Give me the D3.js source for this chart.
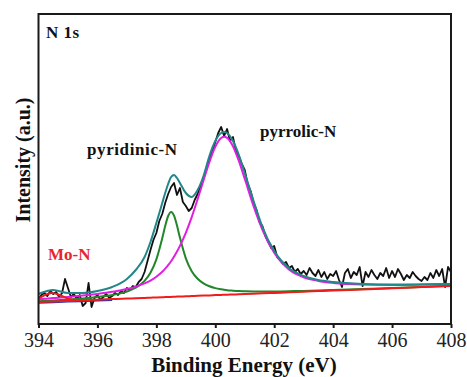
<!DOCTYPE html>
<html>
<head>
<meta charset="utf-8">
<script src="https://cdn.jsdelivr.net/npm/d3@7"></script>
<style>
  body { margin: 0; background: #fff; }
  svg { display: block; }
  svg text { font-family: "Liberation Serif", "Times New Roman", "DejaVu Serif", serif; }
</style>
</head>
<body>
<svg id="chart" width="467" height="377"></svg>
<script>
// measured N 1s spectrum, one point every 0.1 eV starting at 394.0 eV
var rawStart = 394.0, rawStep = 0.1;
var rawCounts = [
  25, 29, 31, 28, 33, 30, 32, 27, 31, 45,
  36, 27, 30, 25, 29, 18, 21, 41, 17, 26,
  29, 24, 27, 30, 26, 28, 31, 29, 33, 31,
  36, 34, 38, 37, 42, 45, 52, 63, 74, 84,
  91, 103, 110, 121, 130, 137, 141, 129, 136, 122,
  118, 113, 116, 124, 130, 138, 146, 155, 166, 172,
  182, 191, 197, 188, 195, 183, 187, 173, 168, 160,
  154, 140, 133, 121, 114, 102, 98, 88, 82, 76,
  78, 67, 64, 60, 62, 56, 58, 52, 55, 50,
  53, 49, 56, 51, 48, 54, 47, 52, 45, 50,
  48, 53, 44, 37, 51, 55, 46, 52, 49, 57,
  38, 52, 47, 54, 49, 45, 51, 48, 56, 46,
  53, 47, 55, 50, 44, 49, 46, 52, 48, 45,
  43, 47, 44, 51, 46, 54, 48, 55, 37, 57,
  52
];

// fitted curves
var fitEnergy = [394, 394.5, 395, 395.5, 396, 396.5, 397, 397.3, 397.6, 397.8,
  398.0, 398.2, 398.3, 398.4, 398.5, 398.6, 398.7, 398.8, 399.0, 399.2,
  399.4, 399.6, 399.8, 400.0, 400.2, 400.3, 400.4, 400.6, 400.8, 401.0,
  401.3, 401.6, 402.0, 402.5, 403, 403.5, 404, 405, 406, 407, 408];
var background = [22.0, 22.6, 23.1, 23.7, 24.3, 24.9, 25.4, 25.8, 26.1, 26.3,
  26.6, 26.8, 26.9, 27.0, 27.1, 27.3, 27.4, 27.5, 27.7, 27.9,
  28.2, 28.4, 28.6, 28.9, 29.1, 29.2, 29.3, 29.5, 29.8, 30.0,
  30.3, 30.7, 31.1, 31.7, 32.3, 32.9, 33.4, 34.6, 35.7, 36.9, 38.0];
var pyridinicFit = [22.8, 23.6, 24.5, 25.6, 27.0, 29.0, 32.4, 36.3, 43.1, 51.2,
  64.6, 85.7, 97.9, 108.0, 112.1, 108.3, 98.4, 86.4, 65.7, 52.8,
  45.2, 40.6, 37.7, 35.9, 34.7, 34.2, 33.8, 33.3, 32.9, 32.7,
  32.5, 32.4, 32.5, 32.8, 33.1, 33.5, 34.0, 35.0, 36.0, 37.1, 38.2];
var pyrrolicFit = [24.8, 25.9, 27.0, 28.4, 30.1, 32.2, 35.0, 37.4, 40.6, 43.4,
  47.3, 52.3, 55.3, 58.8, 62.7, 67.4, 72.4, 78.1, 91.2, 106.9,
  124.7, 143.6, 161.9, 177.2, 186.0, 187.2, 186.2, 177.8, 163.1, 145.2,
  117.8, 94.2, 71.2, 54.6, 46.8, 43.1, 41.1, 39.5, 39.1, 39.4, 39.9];
var envelopeFit = [30, 34, 31, 31, 33, 37, 45, 54, 67, 82,
  101, 121, 131, 140, 147, 149, 146, 141, 131, 127,
  134, 148, 168, 183, 191, 192, 191, 183, 169, 151,
  123, 97, 73, 56, 48, 44, 42, 40, 39.4, 39.6, 40.1];

var moNEnergy = [394, 394.2, 394.45, 394.7, 395.0, 395.3, 395.6];
var moNFit = [25.5, 28.7, 31.0, 29.3, 25.4, 23.9, 23.8];

var minorEnergy = [394, 395, 396, 396.5];
var minorFit = [21.3, 22.4, 23.5, 24.1];

var xTicks = [394, 396, 398, 400, 402, 404, 406, 408];

var serif = "'Liberation Serif', 'Times New Roman', 'DejaVu Serif', serif";
var svg, x, y, line, xAxis, gx, pairs, label;

svg = d3.select("#chart");

x = d3.scaleLinear().domain([394, 408]).range([38.5, 451]);
y = d3.scaleLinear().domain([0, 310]).range([324, 14]);

line = d3.line().x(function(d) {
  return x(d[0]);
}).y(function(d) {
  return y(d[1]);
});

pairs = function(xs, ys) {
  return xs.map(function(v, i) {
    return [v, ys[i]];
  });
};

// raw data first, fits drawn over it
svg.append("path")
  .attr("d", line.curve(d3.curveLinear)(rawCounts.map(function(c, i) {
    return [rawStart + i * rawStep, c];
  })))
  .style("fill", "none").style("stroke", "#111").style("stroke-width", 1.8)
  .style("stroke-linejoin", "round");

line.curve(d3.curveMonotoneX);

[
  [minorEnergy, minorFit, "#2436b8"],
  [fitEnergy, pyridinicFit, "#22862a"],
  [fitEnergy, pyrrolicFit, "#e21ee2"],
  [fitEnergy, background, "#f01c1c"],
  [moNEnergy, moNFit, "#f01c1c"],
  [fitEnergy, envelopeFit, "#23878a"]
].forEach(function(f) {
  svg.append("path")
    .attr("d", line(pairs(f[0], f[1])))
    .style("fill", "none").style("stroke", f[2]).style("stroke-width", 2);
});

// frame
svg.append("rect")
  .attr("x", 38.5).attr("y", 14).attr("width", 412.5).attr("height", 310)
  .style("fill", "none").style("stroke", "#1a1a1a").style("stroke-width", 2);

xAxis = d3.axisBottom(x).tickValues(xTicks).tickSize(4).tickSizeOuter(0).tickPadding(5)
  .tickFormat(d3.format("d"));
gx = svg.append("g").attr("transform", "translate(0,324)").call(xAxis);
gx.attr("font-family", null).attr("font-size", null);
gx.select(".domain").remove();
gx.selectAll(".tick line").style("stroke", "#1a1a1a").style("stroke-width", 2);
gx.selectAll(".tick text").style("font-family", serif)
  .style("font-size", "20px").style("fill", "#222");

label = function(tx, ty, size, colour, text) {
  return svg.append("text").attr("x", tx).attr("y", ty)
    .style("font-family", serif).style("font-size", size + "px")
    .style("font-weight", "bold").style("fill", colour).text(text);
};

label(244, 371.5, 21, "#111", "Binding Energy (eV)").attr("text-anchor", "middle");

label(0, 0, 20, "#111", "Intensity (a.u.)")
  .attr("transform", "translate(30,160) rotate(-90)").attr("text-anchor", "middle");

label(46, 38, 17, "#111", "N 1s").style("letter-spacing", "0.5px");
label(87, 155, 17, "#111", "pyridinic-N").style("letter-spacing", "0.6px");
label(260, 137, 17, "#111", "pyrrolic-N");
label(48, 260, 17, "#e8262a", "Mo-N");
</script>
</body>
</html>
